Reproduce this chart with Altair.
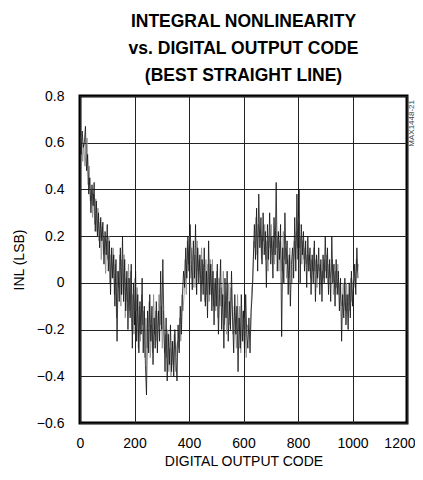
import altair as alt
import pandas as pd

# INL readings (LSB).
# Dark trace: one reading every 4 codes starting at code 0
dark_step = 4
dark_start = 0
dark_values = [
    0.62, 0.55, 0.65, 0.58, 0.60,
    0.67, 0.48, 0.55, 0.38, 0.45,
    0.30, 0.42, 0.33, 0.43, 0.22,
    0.35, 0.20, 0.30, 0.15, 0.28,
    0.18, 0.26, 0.08, 0.22, 0.12,
    0.25, 0.05, 0.18, -0.05, 0.15,
    0.02, 0.12, -0.10, 0.10, -0.25,
    0.05, -0.08, 0.15, -0.05, 0.20,
    -0.08, 0.10, -0.12, 0.05, -0.20,
    0.02, -0.15, 0.08, -0.28, 0.00,
    -0.18, 0.05, -0.25, -0.05, -0.30,
    -0.08, -0.22, 0.02, -0.30, -0.10,
    -0.35, -0.48, -0.12, -0.30, -0.05,
    -0.25, -0.10, -0.35, -0.15, -0.28,
    -0.08, -0.30, -0.12, -0.25, 0.05,
    -0.20, 0.10, -0.18, -0.38, -0.15,
    -0.42, -0.22, -0.35, -0.18, -0.38,
    -0.25, -0.40, -0.20, -0.32, -0.42,
    -0.18, -0.30, -0.10, -0.22, -0.05,
    0.05, -0.02, 0.15, 0.02, 0.20,
    0.05, 0.25, 0.10, -0.03, 0.18,
    0.02, 0.25, -0.05, 0.15, 0.00,
    0.12, -0.08, 0.10, -0.05, 0.15,
    -0.10, 0.05, -0.15, 0.18, -0.05,
    0.08, -0.12, 0.05, -0.18, 0.02,
    -0.10, 0.08, -0.22, -0.05, 0.10,
    -0.20, -0.05, -0.28, 0.02, -0.15,
    0.05, -0.25, -0.08, -0.20, 0.05,
    -0.15, -0.30, -0.05, -0.22, -0.10,
    -0.38, -0.15, -0.28, -0.05, -0.25,
    -0.12, -0.30, -0.05, -0.22, -0.28,
    -0.15, -0.30, -0.12, -0.05, 0.10,
    0.25, 0.10, 0.32, 0.05, 0.38,
    0.15, 0.28, 0.08, 0.30, 0.12,
    0.22, -0.02, 0.25, 0.10, 0.30,
    0.08, 0.20, 0.02, 0.28, 0.12,
    0.43, 0.05, 0.22, 0.10, 0.25,
    -0.23, 0.15, 0.00, 0.30, 0.08,
    0.18, -0.05, 0.12, -0.10, 0.08,
    0.15, 0.02, 0.28, 0.05, 0.38,
    0.10, 0.40, 0.00, 0.25, 0.12,
    0.22, 0.05, 0.18, -0.02, 0.20,
    0.05, 0.15, -0.05, 0.12, 0.00,
    0.18, -0.08, 0.12, 0.02, 0.15,
    -0.05, 0.10, -0.08, 0.12, 0.00,
    0.20, 0.02, 0.15, -0.05, 0.10,
    -0.08, 0.20, 0.00, 0.08, -0.10,
    0.10, -0.05, 0.05, -0.12, 0.02,
    -0.25, -0.05, -0.15, 0.02, -0.18,
    -0.05, -0.20, 0.00, -0.15, 0.05,
    -0.10, -0.02, 0.08, -0.05, 0.15,
    0.02,
]

# Light (grey) trace: one reading every 4 codes starting at code 2
light_step = 4
light_start = 2
light_values = [
    0.58, 0.64, 0.52, 0.60, 0.50,
    0.55, 0.62, 0.42, 0.50, 0.35,
    0.40, 0.28, 0.38, 0.25, 0.36,
    0.22, 0.32, 0.18, 0.26, 0.10,
    0.24, 0.12, 0.20, 0.04, 0.18,
    0.10, 0.20, 0.00, 0.12, 0.02,
    0.15, -0.05, 0.08, -0.15, 0.05,
    -0.02, 0.12, -0.10, 0.10, -0.05,
    0.12, -0.15, 0.02, -0.08, 0.08,
    -0.12, 0.05, -0.20, -0.05, -0.22,
    0.02, -0.12, -0.02, -0.28, -0.10,
    -0.25, -0.05, -0.18, -0.12, -0.32,
    -0.15, -0.28, -0.20, -0.08, -0.32,
    -0.18, -0.30, -0.05, -0.22, -0.12,
    -0.25, -0.15, -0.05, -0.18, -0.10,
    -0.28, -0.12, -0.30, -0.22, -0.32,
    -0.20, -0.38, -0.28, -0.40, -0.25,
    -0.35, -0.22, -0.38, -0.28, -0.25,
    -0.28, -0.15, -0.25, -0.05, -0.12,
    -0.05, 0.10, -0.05, 0.18, 0.08,
    0.20, 0.02, 0.15, 0.08, -0.02,
    0.12, -0.02, 0.18, 0.05, 0.10,
    0.02, 0.15, 0.00, 0.08, -0.08,
    0.10, -0.05, 0.08, -0.08, 0.10,
    -0.05, 0.10, -0.10, 0.00, -0.12,
    0.05, -0.15, 0.02, -0.10, -0.02,
    -0.10, 0.05, -0.18, -0.08, -0.22,
    -0.10, 0.00, -0.18, -0.02, -0.12,
    -0.22, -0.10, -0.18, -0.28, -0.05,
    -0.20, -0.10, -0.30, -0.18, -0.12,
    -0.25, -0.15, -0.32, -0.18, -0.20,
    -0.22, -0.20, -0.02, 0.00, 0.18,
    0.15, 0.28, 0.12, 0.25, 0.20,
    0.22, 0.10, 0.20, 0.18, 0.25,
    0.10, 0.18, 0.05, 0.20, 0.15,
    0.25, 0.12, 0.18, 0.08, 0.22,
    0.15, 0.20, 0.05, 0.18, 0.12,
    0.05, 0.22, 0.10, 0.15, 0.02,
    0.10, 0.02, 0.15, 0.05, 0.00,
    0.08, 0.18, 0.10, 0.22, 0.15,
    0.28, 0.15, 0.20, 0.08, 0.18,
    0.10, 0.15, 0.08, 0.12, 0.05,
    0.12, 0.02, 0.10, 0.05, 0.15,
    0.05, 0.10, -0.02, 0.08, 0.05,
    0.08, 0.00, 0.05, 0.02, 0.10,
    0.05, 0.12, 0.00, 0.08, 0.02,
    0.05, 0.10, -0.05, 0.02, 0.05,
    -0.02, 0.08, -0.05, 0.00, -0.08,
    -0.10, 0.00, -0.08, -0.12, 0.00,
    -0.10, -0.05, -0.12, 0.02, -0.08,
    0.00, 0.05, -0.02, 0.10, 0.05,
    0.08,
]

x_ticks = [0, 200, 400, 600, 800, 1000, 1200]
y_ticks = [-0.6, -0.4, -0.2, 0, 0.2, 0.4, 0.6, 0.8]
title_lines = ["INTEGRAL NONLINEARITY", "vs. DIGITAL OUTPUT CODE", "(BEST STRAIGHT LINE)"]
x_label = "DIGITAL OUTPUT CODE"
y_label = "INL (LSB)"
figure_id = ["MAX1448-21"]

dark_df = pd.DataFrame({
    "code": [dark_start + i * dark_step for i in range(len(dark_values))],
    "inl": dark_values,
})
light_df = pd.DataFrame({
    "code": [light_start + i * light_step for i in range(len(light_values))],
    "inl": light_values,
})

FONT = "Liberation Sans, Arial, Helvetica, sans-serif"

x_enc = alt.X(
    "code:Q",
    scale=alt.Scale(domain=[0, 1200], nice=False),
    axis=alt.Axis(
        values=x_ticks,
        title=x_label,
        grid=True,
        gridColor="#222222",
        gridWidth=1,
        gridOpacity=1,
        domain=False,
        ticks=False,
        labelPadding=13,
        titlePadding=4,
        labelFlush=False,
        labelAlign=alt.condition("datum.value == 1200", alt.value("right"), alt.value("center")),
        labelOffset=alt.condition("datum.value == 1200", alt.value(8), alt.value(0)),
        format="d",
    ),
)
y_enc = alt.Y(
    "inl:Q",
    scale=alt.Scale(domain=[-0.6, 0.8], nice=False),
    axis=alt.Axis(
        values=y_ticks,
        title=y_label,
        grid=True,
        gridColor="#222222",
        gridWidth=1,
        gridOpacity=1,
        domain=False,
        ticks=False,
        labelPadding=16,
        titlePadding=10,
        labelFlush=False,
        labelExpr="datum.value == 0 ? '0' : format(datum.value, '.1f')",
    ),
)

light = alt.Chart(light_df).mark_line(color="#8a8a8a", strokeWidth=0.8, clip=True).encode(
    x=x_enc, y=y_enc
)
dark = alt.Chart(dark_df).mark_line(color="#111111", strokeWidth=0.8, clip=True).encode(
    x=x_enc, y=y_enc
)

tag = alt.Chart(pd.DataFrame({"t": figure_id})).mark_text(
    angle=270, align="right", baseline="middle", fontSize=8, color="#444444", font=FONT
).encode(text="t:N", x=alt.value(332), y=alt.value(4))

chart = (
    alt.layer(light, dark, tag)
    .properties(
        width=327,
        height=327,
        autosize=alt.AutoSizeParams(type="none"),
        padding={"left": 72, "top": 88, "right": 8, "bottom": 48},
        title=alt.Title(
            text=title_lines,
            anchor="middle",
            font=FONT,
            fontSize=17.5,
            fontWeight="bold",
            lineHeight=27,
            color="#000000",
            offset=5,
        ),
    )
    .configure_view(stroke="#000000", strokeWidth=3)
    .configure_axis(
        labelFont=FONT,
        titleFont=FONT,
        labelFontSize=14,
        titleFontSize=14,
        labelColor="#000000",
        titleColor="#000000",
        titleFontWeight="normal",
    )
)

chart.save("out.html", embed_options={"renderer": "svg", "actions": False})
